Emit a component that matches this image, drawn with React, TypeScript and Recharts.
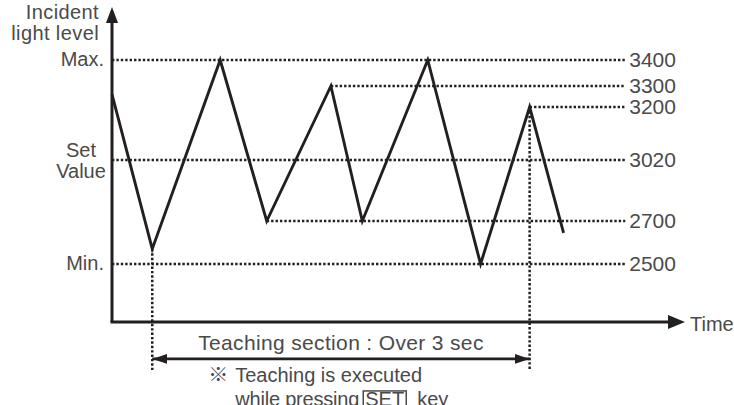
import React from 'react';
import { LineChart, Line, XAxis, YAxis, ReferenceLine, Label } from 'recharts';

// ---- data ----
const TIMES = [0, 0.32, 0.86, 1.23, 1.74, 1.99, 2.51, 2.93, 3.32, 3.59];
const LIGHT_LEVELS = [3260, 2570, 3400, 2700, 3300, 2700, 3400, 2500, 3200, 2645];

const GUIDE_LEVELS = [3400, 3300, 3200, 3020, 2700, 2500];
const GUIDE_LABELS = ['3400', '3300', '3200', '3020', '2700', '2500'];
const GUIDE_START_T = [0, 1.74, 3.32, 0, 1.23, 0];
const GUIDE_END_T = 4.08;

const LEFT_TICKS = [3400, 3020, 2500];
const LEFT_TICK_LABELS = [['Max.'], ['Set', 'Value'], ['Min.']];

const TEACH_T = [0.32, 3.32];
const TEACH_FROM_LEVELS = [2570, 3200];
const DROP_LEVEL = 2007;
const TEACH_ARROW_LEVEL = 2058;

const X_DOMAIN = [0, 4.42];
const Y_DOMAIN = [2230, 3542];
// schematic (non-proportional) vertical scale: value anchors and their share of the axis height
const Y_ANCHOR_VALUES = [2230, 2500, 2700, 3020, 3200, 3300, 3400, 3542];
const Y_ANCHOR_FRACS = [0, 0.19398, 0.33779, 0.54181, 0.71906, 0.7893, 0.87625, 1];

const data = TIMES.map((t, i) => ({ t, level: LIGHT_LEVELS[i] }));

const INK = '#231f20';
const TEXT = '#4a4a4a';
const FONT = "'Liberation Sans', Arial, 'Noto Sans CJK KR', sans-serif";
const DOTS = '2.4 2';

function anchorFrac(v: number): number {
  const A = Y_ANCHOR_VALUES;
  const F = Y_ANCHOR_FRACS;
  let i = 0;
  if (v <= A[0]) i = 0;
  else if (v >= A[A.length - 1]) i = A.length - 2;
  else {
    while (i < A.length - 2 && v > A[i + 1]) i++;
  }
  return F[i] + ((v - A[i]) * (F[i + 1] - F[i])) / (A[i + 1] - A[i]);
}

function fracToValue(f: number): number {
  const A = Y_ANCHOR_VALUES;
  const F = Y_ANCHOR_FRACS;
  let i = 0;
  if (f <= F[0]) i = 0;
  else if (f >= F[F.length - 1]) i = F.length - 2;
  else {
    while (i < F.length - 2 && f > F[i + 1]) i++;
  }
  return A[i] + ((f - F[i]) * (A[i + 1] - A[i])) / (F[i + 1] - F[i]);
}

function schematicScale(dom: number[] = Y_DOMAIN.slice(), rng: number[] = [0, 1]): any {
  let d = dom.slice();
  let r = rng.slice();
  const s: any = (v: number) => r[0] + anchorFrac(Number(v)) * (r[1] - r[0]);
  s.domain = (nd?: number[]) => {
    if (nd === undefined) return d.slice();
    d = nd.slice();
    return s;
  };
  s.range = (nr?: number[]) => {
    if (nr === undefined) return r.slice();
    r = nr.slice();
    return s;
  };
  s.copy = () => schematicScale(d, r);
  s.invert = (px: number) => fracToValue((px - r[0]) / (r[1] - r[0]));
  s.ticks = () => Y_ANCHOR_VALUES.slice(1, -1);
  s.tickFormat = () => (v: number) => String(v);
  s.clamp = () => s;
  s.nice = () => s;
  return s;
}

const yScale = schematicScale();

const LeftTick = (props: any) => {
  const { x, y, payload } = props;
  const idx = LEFT_TICKS.indexOf(payload.value);
  const lines = idx >= 0 ? LEFT_TICK_LABELS[idx] : [];
  if (lines.length === 1) {
    return (
      <text x={x} y={y + 6} textAnchor="end" fill={TEXT} fontSize={20} fontFamily={FONT}>
        {lines[0]}
      </text>
    );
  }
  return (
    <g>
      {lines.map((l, i) => (
        <text key={l} x={x - 23} y={y + (i === 0 ? -3 : 18)} textAnchor="middle" fill={TEXT} fontSize={20} fontFamily={FONT}>
          {l}
        </text>
      ))}
    </g>
  );
};

const YTitle = (props: any) => {
  const vb = props.viewBox;
  const right = vb.x + vb.width - 13;
  return (
    <g fill={TEXT} fontSize={20} fontFamily={FONT} letterSpacing={0.4}>
      <text x={right} y={vb.y - 4} textAnchor="end">Incident</text>
      <text x={right} y={vb.y + 17} textAnchor="end">light level</text>
    </g>
  );
};

const XTitle = (props: any) => {
  const vb = props.viewBox;
  return (
    <text x={vb.x + vb.width + 22} y={vb.y + 9} fill={TEXT} fontSize={20} fontFamily={FONT}>
      Time
    </text>
  );
};

const TeachingNote = (props: any) => {
  const vb = props.viewBox;
  const textX = vb.x + 83;
  const l1 = vb.y + 23;
  const l2 = vb.y + 47;
  return (
    <g fill={TEXT} fontSize={20} fontFamily={FONT}>
      <text x={vb.x + 56} y={l1}>※</text>
      <text x={textX} y={l1}>Teaching is executed</text>
      <text x={textX} y={l2} letterSpacing={-0.2}>while pressing</text>
      <rect x={vb.x + 211} y={vb.y + 32} width={43} height={26} fill="none" stroke={TEXT} strokeWidth={1.5} />
      <text x={vb.x + 213} y={l2}>SET</text>
      <text x={vb.x + 265} y={l2}>key</text>
    </g>
  );
};

export default function App() {
  return (
    <div style={{ position: 'absolute', left: 0, top: 0, width: 734, height: 405, background: '#fff' }}>
      <LineChart width={734} height={405} data={data} margin={{ top: 23, right: 66, bottom: 63, left: 0 }}>
        <defs>
          <marker id="yArrow" markerUnits="userSpaceOnUse" markerWidth={17} markerHeight={13} refX={0} refY={6} orient="auto-start-reverse">
            <path d="M0,0 L16,6 L0,12 Z" fill={INK} />
          </marker>
          <marker id="xArrow" markerUnits="userSpaceOnUse" markerWidth={18} markerHeight={15} refX={0} refY={7} orient="auto-start-reverse">
            <path d="M0,0 L17,7 L0,14 Z" fill={INK} />
          </marker>
          <marker id="tArrow" markerUnits="userSpaceOnUse" markerWidth={16} markerHeight={11} refX={15} refY={5} orient="auto-start-reverse">
            <path d="M0,0 L15,5 L0,10 Z" fill={INK} />
          </marker>
        </defs>
        <XAxis
          dataKey="t"
          type="number"
          domain={X_DOMAIN}
          height={20}
          tick={false}
          tickLine={false}
          axisLine={{ stroke: INK, strokeWidth: 3, markerEnd: 'url(#xArrow)', strokeLinecap: 'square' }}
          label={XTitle}
        />
        <YAxis
          type="number"
          domain={Y_DOMAIN}
          scale={yScale}
          width={112}
          ticks={LEFT_TICKS}
          interval={0}
          tick={<LeftTick />}
          tickSize={6}
          tickMargin={2}
          tickLine={false}
          axisLine={{ stroke: INK, strokeWidth: 3, markerStart: 'url(#yArrow)' }}
          label={YTitle}
        />
        {GUIDE_LEVELS.map((lv, i) => (
          <ReferenceLine
            key={lv}
            segment={[{ x: GUIDE_START_T[i], y: lv }, { x: GUIDE_END_T, y: lv }]}
            stroke={INK}
            strokeWidth={2.5}
            strokeDasharray={DOTS}
            ifOverflow="visible"
            label={{ value: GUIDE_LABELS[i], position: 'right', offset: 4, fill: TEXT, fontSize: 21, fontFamily: FONT }}
          />
        ))}
        {TEACH_T.map((t, i) => (
          <ReferenceLine
            key={'drop' + t}
            segment={[{ x: t, y: TEACH_FROM_LEVELS[i] }, { x: t, y: DROP_LEVEL }]}
            stroke={INK}
            strokeWidth={2.5}
            strokeDasharray={DOTS}
            ifOverflow="visible"
          />
        ))}
        <ReferenceLine
          segment={[{ x: TEACH_T[0], y: TEACH_ARROW_LEVEL }, { x: TEACH_T[1], y: TEACH_ARROW_LEVEL }]}
          stroke={INK}
          strokeWidth={2.8}
          markerStart="url(#tArrow)"
          markerEnd="url(#tArrow)"
          ifOverflow="visible"
        >
          <Label value="Teaching section : Over 3 sec" position="top" offset={9} fill={TEXT} fontSize={21} fontFamily={FONT} letterSpacing={0.35} />
          <Label content={TeachingNote} />
        </ReferenceLine>
        <Line
          type="linear"
          dataKey="level"
          stroke={INK}
          strokeWidth={2.9}
          dot={false}
          activeDot={false}
          isAnimationActive={false}
        />
      </LineChart>
    </div>
  );
}
